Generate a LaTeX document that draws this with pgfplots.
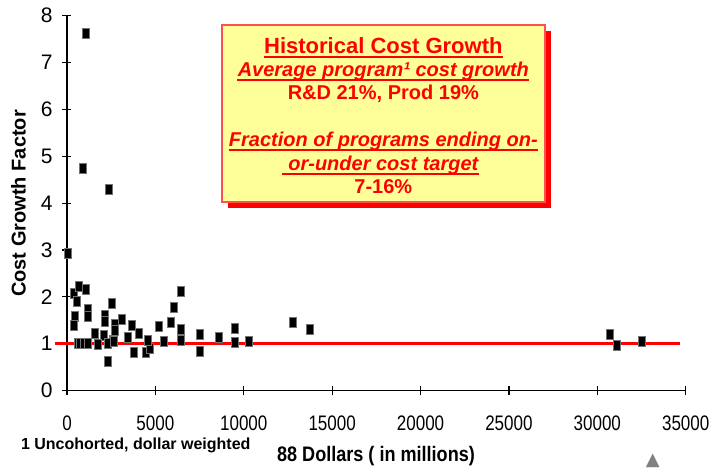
\documentclass[border=0pt]{standalone}
\usepackage{fontspec}
\setmainfont{Liberation Sans}
\newfontfamily\dejavu{DejaVu Sans}
\usepackage{pgfplots}
\pgfplotsset{compat=1.18}
\definecolor{boxyellow}{HTML}{FFFF99}
\definecolor{boxedge}{HTML}{FF5050}

\begin{document}
\begin{tikzpicture}[x=0.5pt,y=0.5pt]
\useasboundingbox (0,0) rectangle (713,468);
\fill[white] (0,0) rectangle (713,468);
\begin{axis}[
  at={(33.5pt,38.75pt)}, anchor=south west,
  scale only axis, width=309.35pt, height=187.4pt,
  xmin=0, xmax=35000, ymin=0, ymax=8,
  axis x line=bottom, axis y line=left,
  axis line style={-, line width=0.6pt, black},
  xtick={0,5000,...,35000}, ytick={0,1,...,8},
  tick align=center, major tick length=4.5pt,
  tick style={black, line width=0.6pt},
  scaled x ticks=false,
  /pgf/number format/1000 sep={},
  /pgf/number format/assume math mode=true,
  tick label style={font=\fontsize{10.5}{12}\selectfont},
  xticklabel style={anchor=center, yshift=-14.25pt, xscale=0.81},
  yticklabel style={anchor=east, xshift=-1.5pt},
  clip=false,
]
\addplot[red, line width=1.2pt, no marks, forget plot] coordinates {(-700,1)(34700,1)};
\addplot[only marks, mark=square*, mark size=2.5pt,
  mark options={fill=black, draw=black!55, line width=0.3pt, xscale=0.7}] coordinates {
(57,2.93)(380,2.08)(664,2.22)(1060,2.15)(533,1.91)(1191,1.74)(2553,1.87)
(437,1.58)(380,1.40)(1191,1.58)(2138,1.60)(2138,1.48)(3120,1.53)(2706,1.42)
(2706,1.28)(1571,1.22)(2100,1.18)(2610,1.07)(3687,1.40)(4084,1.22)(3460,1.14)
(5201,1.38)(5882,1.45)(6070,1.77)(6449,2.12)(6410,1.30)
(590,1.00)(720,1.00)(950,1.00)(1191,1.00)(1760,0.98)(2326,1.00)(2630,1.05)
(3800,0.82)(4447,0.82)(4690,0.91)(2326,0.63)(5502,1.04)(4560,1.07)(6410,1.07)
(7527,1.21)(7527,0.83)(8604,1.13)(9512,1.33)(9474,1.03)(10306,1.05)
(12763,1.46)(13727,1.30)(30686,1.19)(31105,0.96)(32541,1.05)
(1060,7.63)(910,4.74)(2370,4.30)};
\end{axis}

% axis titles and footnote
\node[rotate=90, font=\bfseries\fontsize{10}{12}\selectfont] at (18.5,264.5) {Cost Growth Factor};
\node[anchor=west, font=\bfseries\fontsize{8}{10}\selectfont] at (14,23) {1 Uncohorted, dollar weighted};
\node[font=\bfseries\fontsize{10.5}{12}\selectfont, xscale=0.86] at (376,12) {88 Dollars ( in millions)};
\node[text=gray, font=\dejavu\fontsize{9}{9}\selectfont] at (652.7,7) {▲};

% text box with shadow
\fill[red] (227.7,260.3) rectangle (551,437);
\filldraw[fill=boxyellow, draw=boxedge, line width=0.8pt] (221.7,266.3) rectangle (545,443);
\begin{scope}[every node/.style={anchor=base, inner sep=0pt, text=red}]
\node[font=\bfseries\fontsize{11}{13}\selectfont] (t1) at (383.35,415) {Historical Cost Growth};
\node[font=\bfseries\itshape\fontsize{10}{12}\selectfont] (t2) at (383.35,391.5) {Average program¹ cost growth};
\node[font=\bfseries\fontsize{10}{12}\selectfont] at (383.35,368.1) {R\&D 21\%, Prod 19\%};
\node[font=\bfseries\itshape\fontsize{10}{12}\selectfont] (t4) at (383.35,321.5) {Fraction of programs ending on-};
\node[font=\bfseries\itshape\fontsize{10}{12}\selectfont] (t5) at (383.35,297.5) {or-under cost target};
\node[font=\bfseries\fontsize{10}{12}\selectfont] at (383.35,274.1) {7-16\%};
\end{scope}
\draw[red, line width=0.9pt] ([yshift=-1.8pt]t1.base west) -- ([yshift=-1.8pt]t1.base east);
\draw[red, line width=0.9pt] ([yshift=-1.8pt]t2.base west) -- ([yshift=-1.8pt]t2.base east);
\draw[red, line width=0.9pt] ([yshift=-1.8pt]t4.base west) -- ([yshift=-1.8pt]t4.base east);
\draw[red, line width=0.9pt] ([yshift=-1.8pt,xshift=-2.8pt]t5.base west) -- ([yshift=-1.8pt]t5.base east);
\end{tikzpicture}
\end{document}
